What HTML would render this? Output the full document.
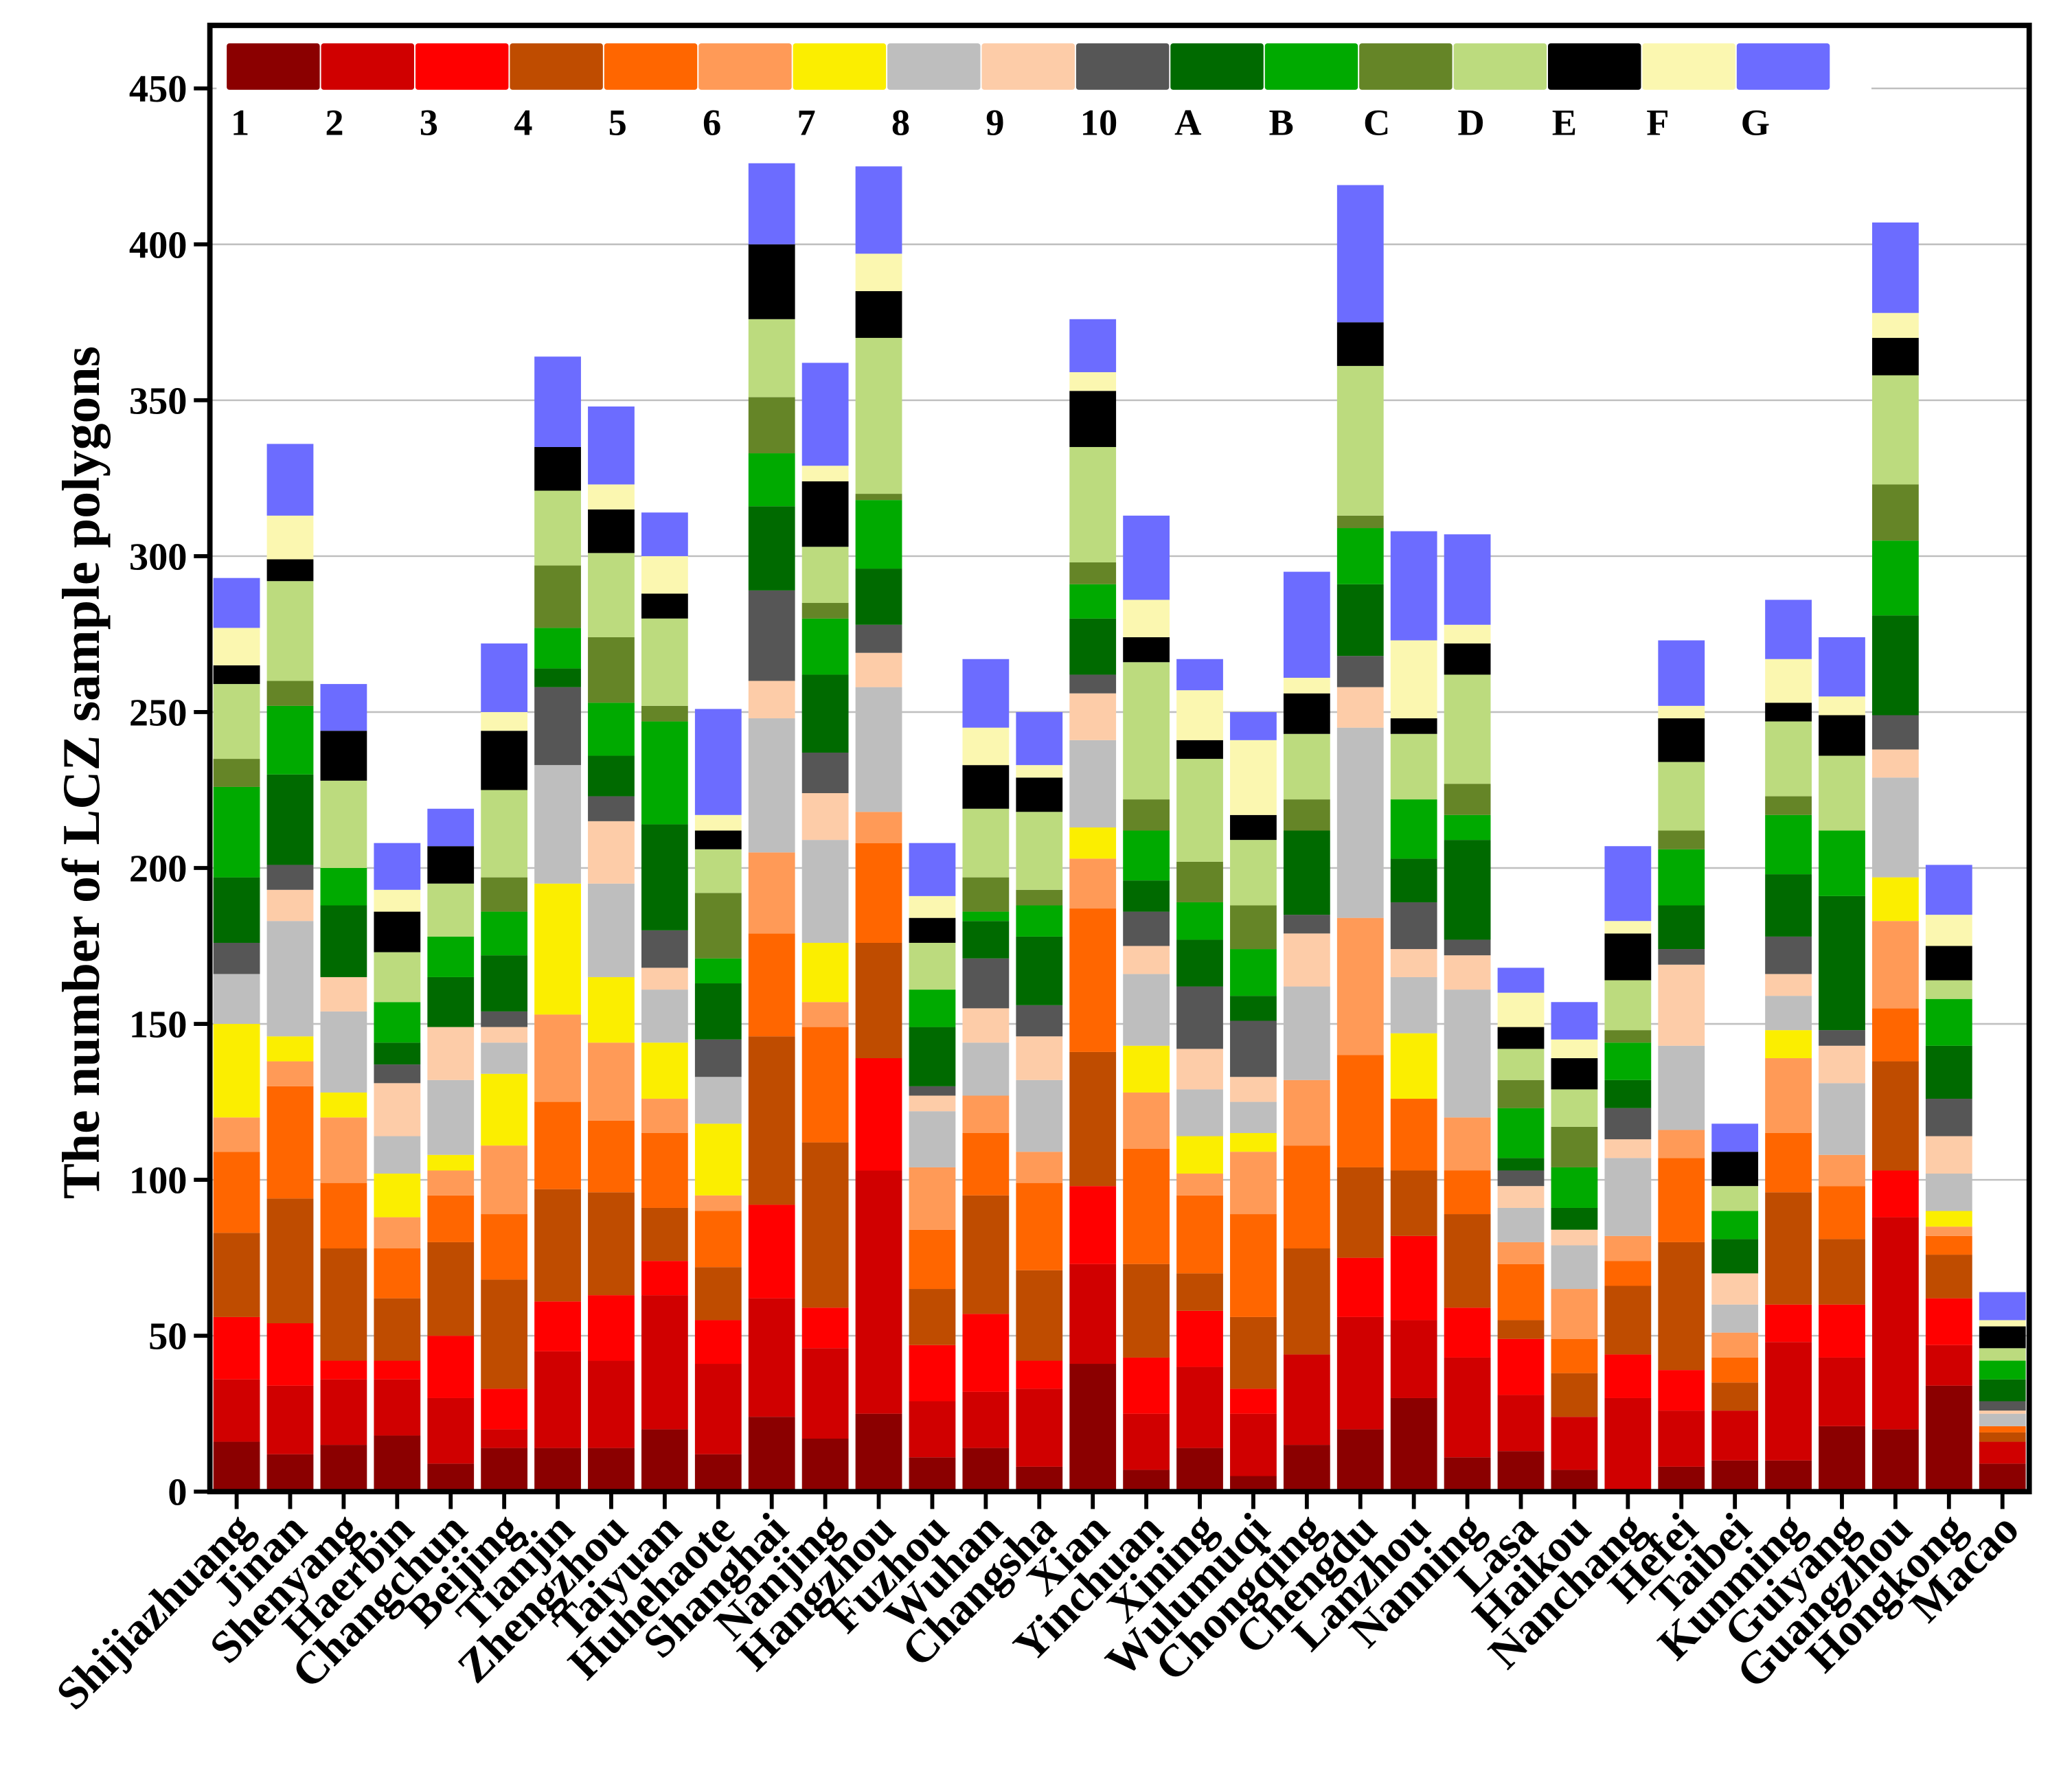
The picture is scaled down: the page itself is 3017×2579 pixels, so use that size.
<!DOCTYPE html>
<html><head><meta charset="utf-8"><style>
html,body{margin:0;padding:0;background:#fff}
svg{display:block}
text{font-family:"Liberation Serif",serif;font-weight:bold;fill:#000}
</style></head><body>
<svg id="chart" width="3017" height="2579" viewBox="0 0 1550 1325" xmlns="http://www.w3.org/2000/svg">
<g id="grid"></g>
<g id="bars"></g>
<rect x="162" y="24" width="1238" height="84" fill="#fff"/>
<g id="legend"></g>
<rect x="157" y="19" width="1361" height="1097" fill="none" stroke="#000" stroke-width="4"/>
<g id="axes"></g>
<text transform="translate(74,578) rotate(-90)" text-anchor="middle" font-size="40">The number of LCZ sample polygons</text>
</svg>
<script>
const classes=["1","2","3","4","5","6","7","8","9","10","A","B","C","D","E","F","G"];
const colors=["#8b0000","#d00000","#ff0000","#bf4c00","#ff6600","#ff9a57","#fbee00","#bebebe","#fdcca8","#565656","#006a00","#00aa00","#658527","#bcdb7e","#000000","#fbf7b0","#6c6cff"];
const cities=["Shijiazhuang","Jinan","Shenyang","Haerbin","Changchun","Beijing","Tianjin","Zhengzhou","Taiyuan","Huhehaote","Shanghai","Nanjing","Hangzhou","Fuzhou","Wuhan","Changsha","Xian","Yinchuan","Xining","Wulumuqi","Chongqing","Chengdu","Lanzhou","Nanning","Lasa","Haikou","Nanchang","Hefei","Taibei","Kunming","Guiyang","Guangzhou","Hongkong","Macao"];
const v_Shijiazhuang=[16,20,20,27,26,11,30,16,0,10,21,29,9,24,6,12,16];
const v_Jinan=[12,22,20,40,36,8,8,37,10,8,29,22,8,32,7,14,23];
const v_Shenyang=[15,21,6,36,21,21,8,26,11,0,23,12,0,28,16,0,15];
const v_Haerbin=[18,18,6,20,16,10,14,12,17,6,7,13,0,16,13,7,15];
const v_Changchun=[9,21,20,30,15,8,5,24,17,0,16,13,0,17,12,0,12];
const v_Beijing=[14,6,13,35,21,22,23,10,5,5,18,14,11,28,19,6,22];
const v_Tianjin=[14,31,16,36,28,28,42,38,0,25,6,13,20,24,14,0,29];
const v_Zhengzhou=[14,28,21,33,23,25,21,30,20,8,13,17,21,27,14,8,25];
const v_Taiyuan=[20,43,11,17,24,11,18,17,7,12,34,33,5,28,8,12,14];
const v_Huhehaote=[12,29,14,17,18,5,23,15,0,12,18,8,21,14,6,5,34];
const v_Shanghai=[24,38,30,54,33,26,0,43,12,29,27,17,18,25,24,0,26];
const v_Nanjing=[17,29,13,53,37,8,19,33,15,13,25,18,5,18,21,5,33];
const v_Hangzhou=[25,78,36,37,32,10,0,40,11,9,18,22,2,50,15,12,28];
const v_Fuzhou=[11,18,18,18,19,20,0,18,5,3,19,12,0,15,8,7,17];
const v_Wuhan=[14,18,25,38,20,12,0,17,11,16,12,3,11,22,14,12,22];
const v_Changsha=[8,25,9,29,28,10,0,23,14,10,22,10,5,25,11,4,17];
const v_Xian=[41,32,25,43,46,16,10,28,15,6,18,11,7,37,18,6,17];
const v_Yinchuan=[7,18,18,30,37,18,15,23,9,11,10,16,10,44,8,12,27];
const v_Xining=[14,26,18,12,25,7,12,15,13,20,15,12,13,33,6,16,10];
const v_Wulumuqi=[5,20,8,23,33,20,6,10,8,18,8,15,14,21,8,24,9];
const v_Chongqing=[15,29,0,34,33,21,0,30,17,6,27,0,10,21,13,5,34];
const v_Chengdu=[20,36,19,29,36,44,0,61,13,10,23,18,4,48,14,0,44];
const v_Lanzhou=[30,25,27,21,23,0,21,18,9,15,14,19,0,21,5,25,35];
const v_Nanning=[11,32,16,30,14,17,0,41,11,5,32,8,10,35,10,6,29];
const v_Lasa=[13,18,18,6,18,7,0,11,7,5,4,16,9,10,7,11,8];
const v_Haikou=[7,17,0,14,11,16,0,14,5,0,7,13,13,12,10,6,12];
const v_Nanchang=[0,30,14,22,8,8,0,25,6,10,9,12,4,16,15,4,24];
const v_Hefei=[8,18,13,41,27,9,0,27,26,5,14,18,6,22,14,4,21];
const v_Taibei=[10,16,0,9,8,8,0,9,10,0,11,9,0,8,11,0,9];
const v_Kunming=[10,38,12,36,19,24,9,11,7,12,20,19,6,24,6,14,19];
const v_Guiyang=[21,22,17,21,17,10,0,23,12,5,43,21,0,24,13,6,19];
const v_Guangzhou=[20,68,15,35,17,28,14,32,9,11,32,24,18,35,12,8,29];
const v_Hongkong=[34,13,15,14,6,3,5,12,12,12,17,15,0,6,11,10,16];
const v_Macao=[9,7,0,3,2,0,0,4,1,3,7,6,0,4,7,2,9];
const values=[v_Shijiazhuang,v_Jinan,v_Shenyang,v_Haerbin,v_Changchun,v_Beijing,v_Tianjin,v_Zhengzhou,v_Taiyuan,v_Huhehaote,v_Shanghai,v_Nanjing,v_Hangzhou,v_Fuzhou,v_Wuhan,v_Changsha,v_Xian,v_Yinchuan,v_Xining,v_Wulumuqi,v_Chongqing,v_Chengdu,v_Lanzhou,v_Nanning,v_Lasa,v_Haikou,v_Nanchang,v_Hefei,v_Taibei,v_Kunming,v_Guiyang,v_Guangzhou,v_Hongkong,v_Macao];
const yTicks=[0,50,100,150,200,250,300,350,400,450];

const NS="http://www.w3.org/2000/svg";
const X0=157,X1=1518,Y0=1116,PPU=2.333;
const y=v=>Y0-v*PPU;
const step=(X1-X0)/cities.length;
const xc=i=>X0+step*(i+0.5);
const bw=step*0.87;
function mk(tag,attrs,parent){const e=document.createElementNS(NS,tag);for(const k in attrs)e.setAttribute(k,attrs[k]);parent.appendChild(e);return e;}
const grid=document.getElementById('grid'),bars=document.getElementById('bars'),legend=document.getElementById('legend'),axes=document.getElementById('axes');
yTicks.forEach(t=>{
  if(t>0){const l=mk('line',{x1:X0,x2:X1,y1:y(t),y2:y(t),stroke:'#c0c0c0','stroke-width':1.3},grid);
  
  }
  const tk=mk('line',{x1:X0-12,x2:X0,y1:y(t),y2:y(t),stroke:'#000','stroke-width':3},axes);
  
  
  const tx=mk('text',{x:X0-17,y:y(t)+10,'text-anchor':'end','font-size':29},axes);
  tx.textContent=t;
  
  
});
cities.forEach((c,i)=>{
  let cum=0;
  values[i].forEach((v,k)=>{
    if(v>0){const r=mk('rect',{x:xc(i)-bw/2,y:y(cum+v),width:bw,height:v*PPU,fill:colors[k]},bars);
    
    }
    cum+=v;
  });
  const tk=mk('line',{x1:xc(i),x2:xc(i),y1:Y0,y2:Y0+13,stroke:'#000','stroke-width':3},axes);
  
  
  const tx=mk('text',{transform:`translate(${xc(i)+14},${Y0+30}) rotate(-45)`,'text-anchor':'end','font-size':34},axes);
  tx.textContent=c;
  
  
});
classes.forEach((c,k)=>{
  const lx=169.6+k*70.6;
  const r=mk('rect',{x:lx,y:32.4,width:69.6,height:34.8,rx:2,fill:colors[k]},legend);
  
  
  const t=mk('text',{x:lx+3,y:101,'font-size':28},legend);
  t.textContent=c;
  
  
});
</script>
</body></html>
